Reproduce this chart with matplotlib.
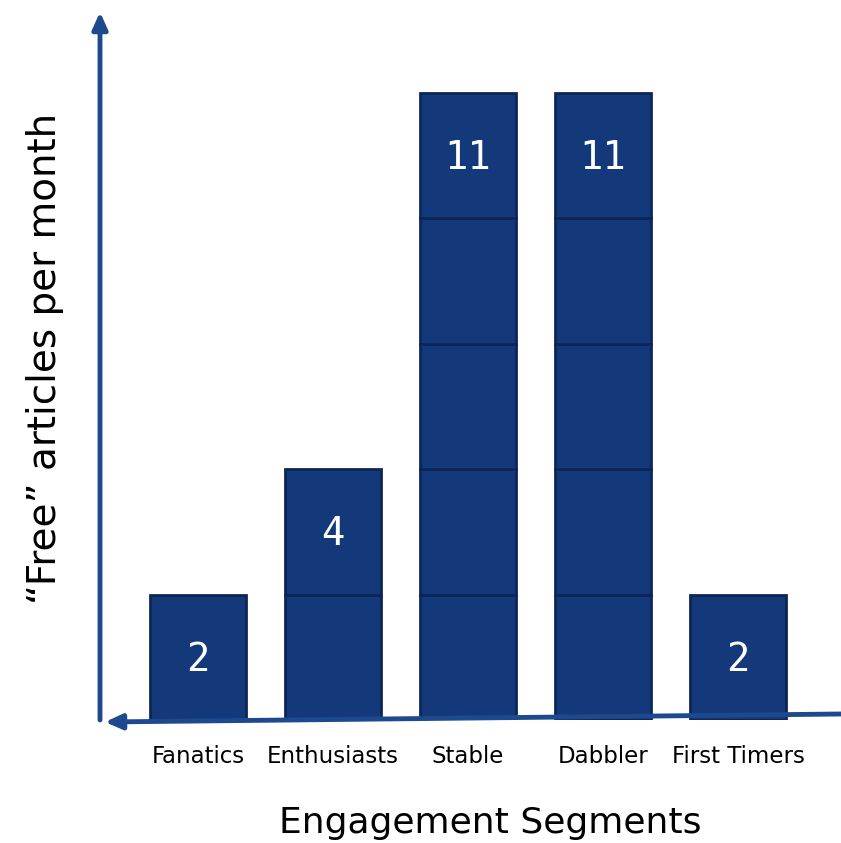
import matplotlib.pyplot as plt

# Data
segments = ['Fanatics', 'Enthusiasts', 'Stable', 'Dabbler', 'First Timers']
article_counts = [2, 4, 11, 11, 2]     # label shown in the top block
block_counts = [1, 2, 5, 5, 1]         # number of stacked blocks per bar

bar_fill = '#14397b'
bar_edge = '#0c2757'
axis_color = '#1d4a8e'

fig = plt.figure(figsize=(8.41, 8.43), dpi=100)
ax = fig.add_axes([100 / 841, 123 / 843, 741 / 841, 708 / 843])
ax.set_xlim(-0.726, 4.763)
ax.set_ylim(0, 5.646)
ax.axis('off')

# stacked blocks
for i, n in enumerate(block_counts):
    for b in range(n):
        ax.bar(i, 1, bottom=b, width=0.71, color=bar_fill, edgecolor=bar_edge, linewidth=2)
    ax.text(i, n - 0.52, str(article_counts[i]), ha='center', va='center',
            color='white', fontsize=28, fontfamily='DejaVu Sans Mono')

# y axis arrow (pointing up)
ax.annotate('', xy=(0, 1.0), xytext=(0, 0.0), xycoords='axes fraction',
            arrowprops=dict(arrowstyle='-|>,head_length=1.0,head_width=0.45', color=axis_color, lw=3.5,
                            shrinkA=0, shrinkB=0))
# x axis arrow (pointing left, slight slope)
ax.annotate('', xy=(5 / 741, -2 / 708), xytext=(1.0, 6 / 708), xycoords='axes fraction',
            arrowprops=dict(arrowstyle='-|>,head_length=1.0,head_width=0.45', color=axis_color, lw=3.5,
                            shrinkA=0, shrinkB=0))

# category labels
for i, s in enumerate(segments):
    ax.text(i, -0.29, s, ha='center', va='center', fontsize=16.5, fontfamily='DejaVu Sans', color='black')

fig.text(490 / 841, 1 - 823 / 843, 'Engagement Segments', ha='center', va='center',
         fontsize=26, fontfamily='DejaVu Sans')
fig.text(45 / 841, 1 - 358 / 843, '\u201cFree\u201d articles per month', ha='center', va='center',
         rotation=90, fontsize=28, fontfamily='DejaVu Sans')

fig.savefig('out.png', dpi=100)
